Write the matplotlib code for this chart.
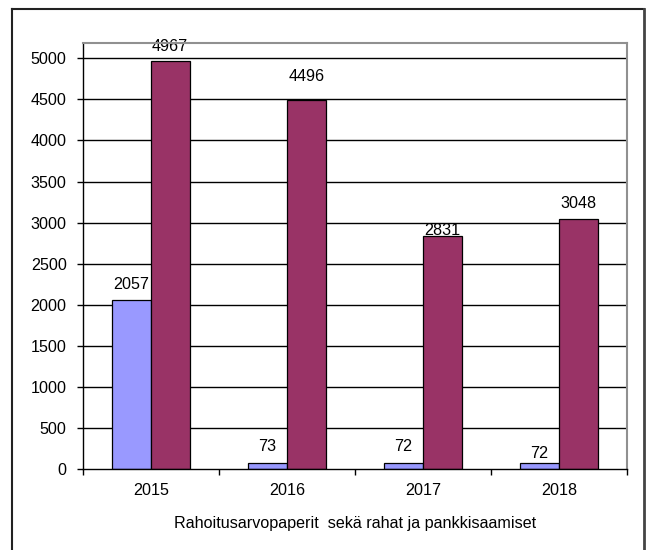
import matplotlib
matplotlib.use("Agg")
import matplotlib.pyplot as plt
from matplotlib.lines import Line2D
import numpy as np

plt.rcParams['font.family'] = ['Liberation Sans', 'DejaVu Sans']

categories = ['2015', '2016', '2017', '2018']
series_a = [2057, 73, 72, 72]
series_b = [4967, 4496, 2831, 3048]
y_ticks = [0, 500, 1000, 1500, 2000, 2500, 3000, 3500, 4000, 4500, 5000]
x_title = 'Rahoitusarvopaperit  sekä rahat ja pankkisaamiset'

# label offsets above bar tops (pixels), mimicking the original placement
offsets_a = [16, 17, 17, 10]
offsets_b = [15, 23, 6, 15]

FS = 11.6
W, H = 646, 550
DPI = 100
fig = plt.figure(figsize=(W / DPI, H / DPI), dpi=DPI)
ax = fig.add_axes([82.7 / W, 1 - 469 / H, (627 - 82.7) / W, (469 - 42.7) / H])

x = np.arange(len(categories))
w = 39 / 136.0
ax.bar(x - w / 2, series_a, width=w, color='#9999FF', edgecolor='black', linewidth=0.9, zorder=3)
ax.bar(x + w / 2, series_b, width=w, color='#993366', edgecolor='black', linewidth=0.9, zorder=3)

px = 72.0 / DPI
for i in range(len(categories)):
    ax.annotate(str(series_a[i]), (x[i] - w / 2, series_a[i]), xytext=(0, offsets_a[i] * px),
                textcoords='offset points', ha='center', va='center', fontsize=FS, zorder=4)
    ax.annotate(str(series_b[i]), (x[i] + w / 2, series_b[i]), xytext=(0, offsets_b[i] * px),
                textcoords='offset points', ha='center', va='center', fontsize=FS, zorder=4)

ax.set_xlim(-0.5, len(categories) - 0.5)
ax.set_ylim(0, 5190)
ax.set_yticks(y_ticks)
ax.set_yticklabels([str(t) for t in y_ticks], fontsize=FS)
for t in y_ticks[1:]:
    ax.axhline(t, color='black', linewidth=1.0, zorder=1)

ax.set_xticks(x)
ax.set_xticklabels(categories, fontsize=FS)
ax.tick_params(axis='x', length=0, pad=10)
ax.set_xticks(np.arange(len(categories) + 1) - 0.5, minor=True)
ax.tick_params(axis='x', which='minor', length=4.5, width=1.0, direction='out', color='black')
ax.tick_params(axis='y', length=4.5, width=1.0, direction='out', pad=7, color='black')

ax.set_xlabel(x_title, fontsize=FS, labelpad=13)

ax.spines['left'].set_color('black')
ax.spines['bottom'].set_color('black')
ax.spines['left'].set_linewidth(1.0)
ax.spines['bottom'].set_linewidth(1.0)
ax.spines['top'].set_color('#909090')
ax.spines['right'].set_color('#909090')
ax.spines['top'].set_linewidth(1.5)
ax.spines['right'].set_linewidth(1.5)
for s in ax.spines.values():
    s.set_zorder(5)

# outer chart border (left, top, right)
fx = lambda p: p / W
fy = lambda p: 1 - p / H
fig.add_artist(Line2D([fx(12), fx(12)], [fy(9), fy(552)], color='#222222', linewidth=1.5, transform=fig.transFigure))
fig.add_artist(Line2D([fx(12), fx(644)], [fy(9), fy(9)], color='#222222', linewidth=1.5, transform=fig.transFigure))
fig.add_artist(Line2D([fx(644), fx(644)], [fy(9), fy(552)], color='#444444', linewidth=2.0, transform=fig.transFigure))

fig.savefig('out.png', dpi=DPI)
